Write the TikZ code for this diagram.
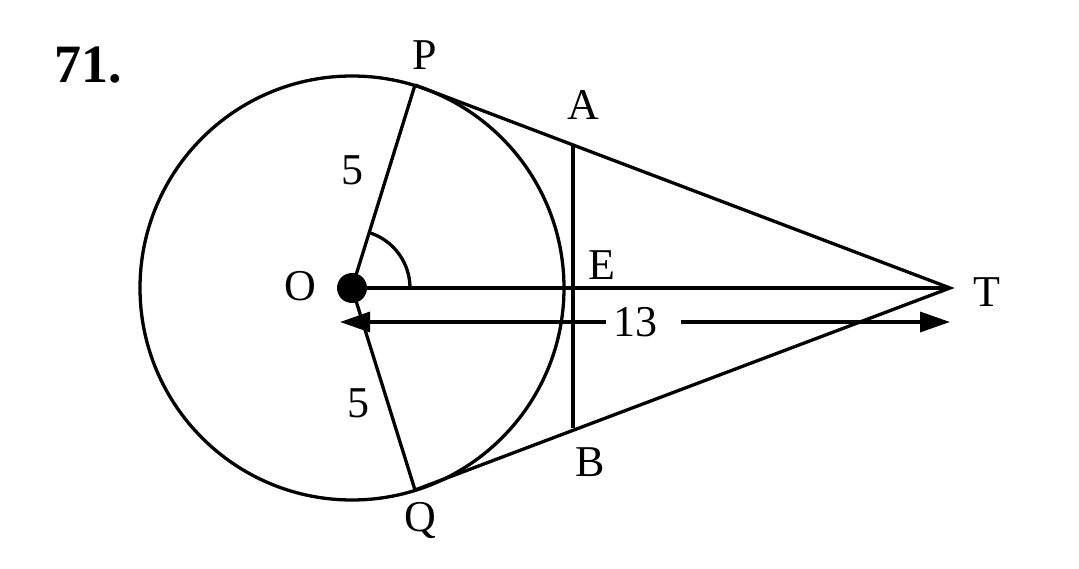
\documentclass[tikz,border=0pt]{standalone}
\usepackage{fontspec}
\setmainfont{Liberation Serif}
\usetikzlibrary{arrows.meta}
\begin{document}
\begin{tikzpicture}[x=1pt,y=1pt,line width=3.3pt,
  lbl/.style={font=\fontsize{44}{44}\selectfont,inner sep=0pt}]
\useasboundingbox (0,0) rectangle (1079,568);
\coordinate (O) at (352,280);
\coordinate (T) at (950,280);
\coordinate (P) at (415,483);
\coordinate (Q) at (415,78);
\coordinate (A) at (573,423);
\coordinate (B) at (573,140);
\coordinate (E) at (568,280);
\draw (O) circle (212);
\draw (O) -- (P); \draw (O) -- (Q);
\draw (P) -- (T) -- (Q);
\draw (O) -- (T);
\draw (A) -- (B);
\draw (O) ++(0:58) arc (0:72.8:58);
\fill (O) circle (15);
\node[lbl] (n13) at (635,246) {13};
\coordinate (L) at (340,246);
\coordinate (R) at (950,246);
\draw[-{Triangle[length=30pt,width=20pt]}] (n13.west) ++(-5,0) -- (L);
\draw[-{Triangle[length=30pt,width=20pt]}] (n13.east) ++(22,0) -- (R);
\node[lbl,font=\fontsize{54}{54}\selectfont\bfseries] (t71) at (88,503) {71.};
\node[lbl] (lP) at (425,513) {P};
\node[lbl] (lA) at (583,463) {A};
\node[lbl] (lE) at (602,303) {E};
\node[lbl] (lO) at (300,282) {O};
\node[lbl] (lT) at (987,276) {T};
\node[lbl] (l5a) at (352,398) {5};
\node[lbl] (l5b) at (358,165) {5};
\node[lbl] (lB) at (590,106) {B};
\node[lbl] (lQ) at (420,48) {Q};
\end{tikzpicture}
\end{document}
